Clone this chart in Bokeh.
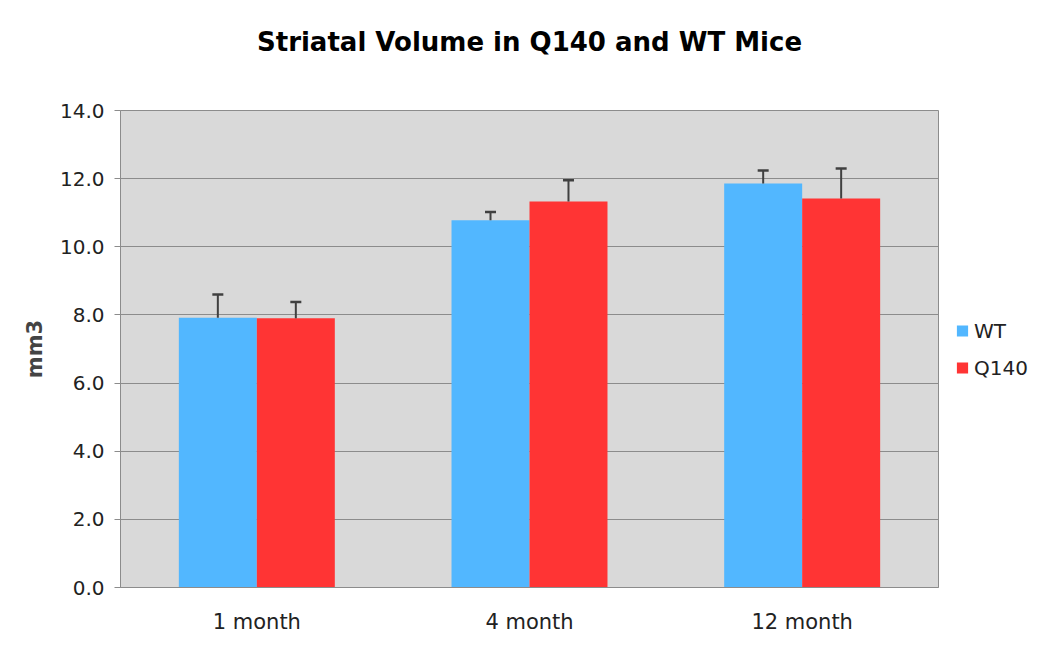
from bokeh.plotting import figure
from bokeh.models import ColumnDataSource, Legend, LegendItem, FixedTicker, NumeralTickFormatter, Title
from bokeh.transform import dodge
from bokeh.embed import file_html
from bokeh.resources import INLINE

categories = ["1 month", "4 month", "12 month"]
wt = [7.92, 10.78, 11.86]
wt_err = [0.68, 0.24, 0.38]
q140 = [7.90, 11.33, 11.42]
q140_err = [0.48, 0.62, 0.88]
series_names = ["WT", "Q140"]
yticks = [0, 2, 4, 6, 8, 10, 12, 14]
chart_title = "Striatal Volume in Q140 and WT Mice"

src = ColumnDataSource(dict(
    cat=categories, wt=wt, q140=q140,
    wt_up=[v + e for v, e in zip(wt, wt_err)],
    q_up=[v + e for v, e in zip(q140, q140_err)],
))

FONT = "DejaVu Sans"
W = 0.286
OFF = W / 2

p = figure(x_range=categories, y_range=(0, 14),
           frame_width=818, frame_height=477,
           output_backend="svg", toolbar_location=None,
           title=chart_title)
p.min_border_left = 120
p.min_border_right = 96
p.min_border_top = 110
p.min_border_bottom = 53
p.background_fill_color = "#d9d9d9"
p.border_fill_color = "white"
p.outline_line_color = "#8c8c8c"
p.outline_line_width = 1

p.title.text_font = FONT
p.title.text_font_size = "26px"
p.title.text_font_style = "bold"
p.title.align = "center"
p.title.text_color = "black"
p.title.standoff = 0

# empty spacer between the title and the plot area
spacer = Title(text=" ", text_font=FONT, text_font_size="26px", standoff=22)
p.add_layout(spacer, "above")

r_wt = p.vbar(x=dodge("cat", -OFF, range=p.x_range), top="wt", width=W, source=src,
              fill_color="#52b7ff", line_color=None)
r_q = p.vbar(x=dodge("cat", OFF, range=p.x_range), top="q140", width=W, source=src,
             fill_color="#ff3434", line_color=None)

for off, lo, hi in [(-OFF, "wt", "wt_up"), (OFF, "q140", "q_up")]:
    xs = dodge("cat", off, range=p.x_range)
    p.segment(x0=xs, x1=xs, y0=lo, y1=hi, source=src, line_color="#404040", line_width=2)
    p.scatter(x=xs, y=hi, marker="dash", size=11, source=src, line_color="#404040", line_width=2.5)

p.xgrid.grid_line_color = None
p.ygrid.grid_line_color = "#8c8c8c"
p.ygrid.grid_line_width = 1

p.yaxis.ticker = FixedTicker(ticks=yticks)
p.yaxis.formatter = NumeralTickFormatter(format="0.0")
p.yaxis.axis_label = "mm3"
p.yaxis.axis_label_text_font = FONT
p.yaxis.axis_label_text_font_size = "21px"
p.yaxis.axis_label_text_font_style = "bold"
p.yaxis.axis_label_standoff = 10
p.yaxis.major_label_text_font = FONT
p.yaxis.major_label_text_font_size = "20px"
p.yaxis.major_label_text_color = "#222222"
p.yaxis.axis_line_color = "#8c8c8c"
p.yaxis.major_tick_line_color = "#8c8c8c"
p.yaxis.major_tick_in = 0
p.yaxis.major_tick_out = 6
p.yaxis.minor_tick_line_color = None
p.yaxis.major_label_standoff = 10

p.xaxis.major_label_text_font = FONT
p.xaxis.major_label_text_font_size = "21px"
p.xaxis.major_label_text_color = "#222222"
p.xaxis.axis_line_color = "#8c8c8c"
p.xaxis.major_tick_line_color = None
p.xaxis.major_label_standoff = 16

legend = Legend(items=[LegendItem(label=series_names[0], renderers=[r_wt]),
                       LegendItem(label=series_names[1], renderers=[r_q])],
                location="center_left")
legend.label_text_font = FONT
legend.label_text_font_size = "20px"
legend.label_text_color = "#222222"
legend.glyph_width = 14
legend.glyph_height = 14
legend.spacing = 13
legend.border_line_color = None
legend.background_fill_alpha = 0
legend.padding = 4
legend.margin = 17
p.add_layout(legend, "right")

open("out.html", "w").write(file_html(p, INLINE))
